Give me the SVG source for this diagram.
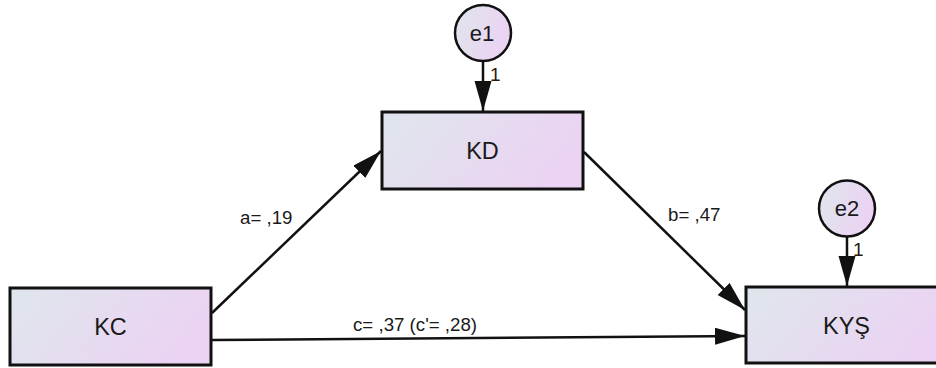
<svg xmlns="http://www.w3.org/2000/svg" width="936" height="368" viewBox="0 0 936 368">
  <style>
    .box { fill: url(#grad); stroke: #111; stroke-width: 3; }
    .circ { fill: url(#grad); stroke: #111; stroke-width: 2.5; }
    .node { font-family: "Liberation Sans", Arial, sans-serif; font-size: 23.5px; fill: #1a1a1a; text-anchor: middle; }
    .err { font-family: "Liberation Sans", Arial, sans-serif; font-size: 22px; fill: #1a1a1a; text-anchor: middle; }
    .lbl { font-family: "Liberation Sans", Arial, sans-serif; font-size: 18.7px; fill: #1a1a1a; }
    .one { font-family: "Liberation Sans", Arial, sans-serif; font-size: 19px; fill: #2a1a10; }
    .edge { stroke: #111; stroke-width: 2.5; fill: none; marker-end: url(#arrow); }
  </style>
  <defs>
    <linearGradient id="grad" x1="0" y1="0" x2="1" y2="0.3">
      <stop offset="0" stop-color="#dfe6ec"/>
      <stop offset="1" stop-color="#ebd3f3"/>
    </linearGradient>
    <marker id="arrow" markerUnits="userSpaceOnUse" markerWidth="30" markerHeight="18" refX="30" refY="8.5" orient="auto">
      <path d="M0,0 L30,8.5 L0,17 z" fill="#111"/>
    </marker>
  </defs>
  <rect width="936" height="368" fill="#ffffff"/>

  <g id="connectors">
    <line class="edge" x1="483" y1="61" x2="483" y2="111"/>
    <line class="edge" x1="847" y1="237" x2="847" y2="286"/>
    <line class="edge" x1="212" y1="313" x2="381" y2="151"/>
    <line class="edge" x1="584" y1="152" x2="745" y2="310"/>
    <line class="edge" x1="212" y1="340" x2="745" y2="336"/>
    <text class="one" x="490" y="81">1</text>
    <text class="one" x="853" y="256">1</text>
    <text class="lbl" x="240" y="224">a= ,19</text>
    <text class="lbl" x="668" y="221">b= ,47</text>
    <text class="lbl" x="353" y="331">c= ,37 (c'= ,28)</text>
  </g>

  <g id="e1">
    <circle class="circ" cx="483" cy="33" r="28"/>
    <text class="err" x="482" y="41">e1</text>
  </g>
  <g id="e2">
    <circle class="circ" cx="847" cy="208.5" r="28"/>
    <text class="err" x="847" y="216">e2</text>
  </g>
  <g id="KD">
    <rect class="box" x="382" y="112" width="201" height="77"/>
    <text class="node" x="482.5" y="158.5">KD</text>
  </g>
  <g id="KC">
    <rect class="box" x="10" y="288" width="201" height="77"/>
    <text class="node" x="110.5" y="335">KC</text>
  </g>
  <g id="KYS">
    <rect class="box" x="746" y="287" width="200" height="76"/>
    <text class="node" x="846.5" y="334">KYŞ</text>
  </g>
</svg>
